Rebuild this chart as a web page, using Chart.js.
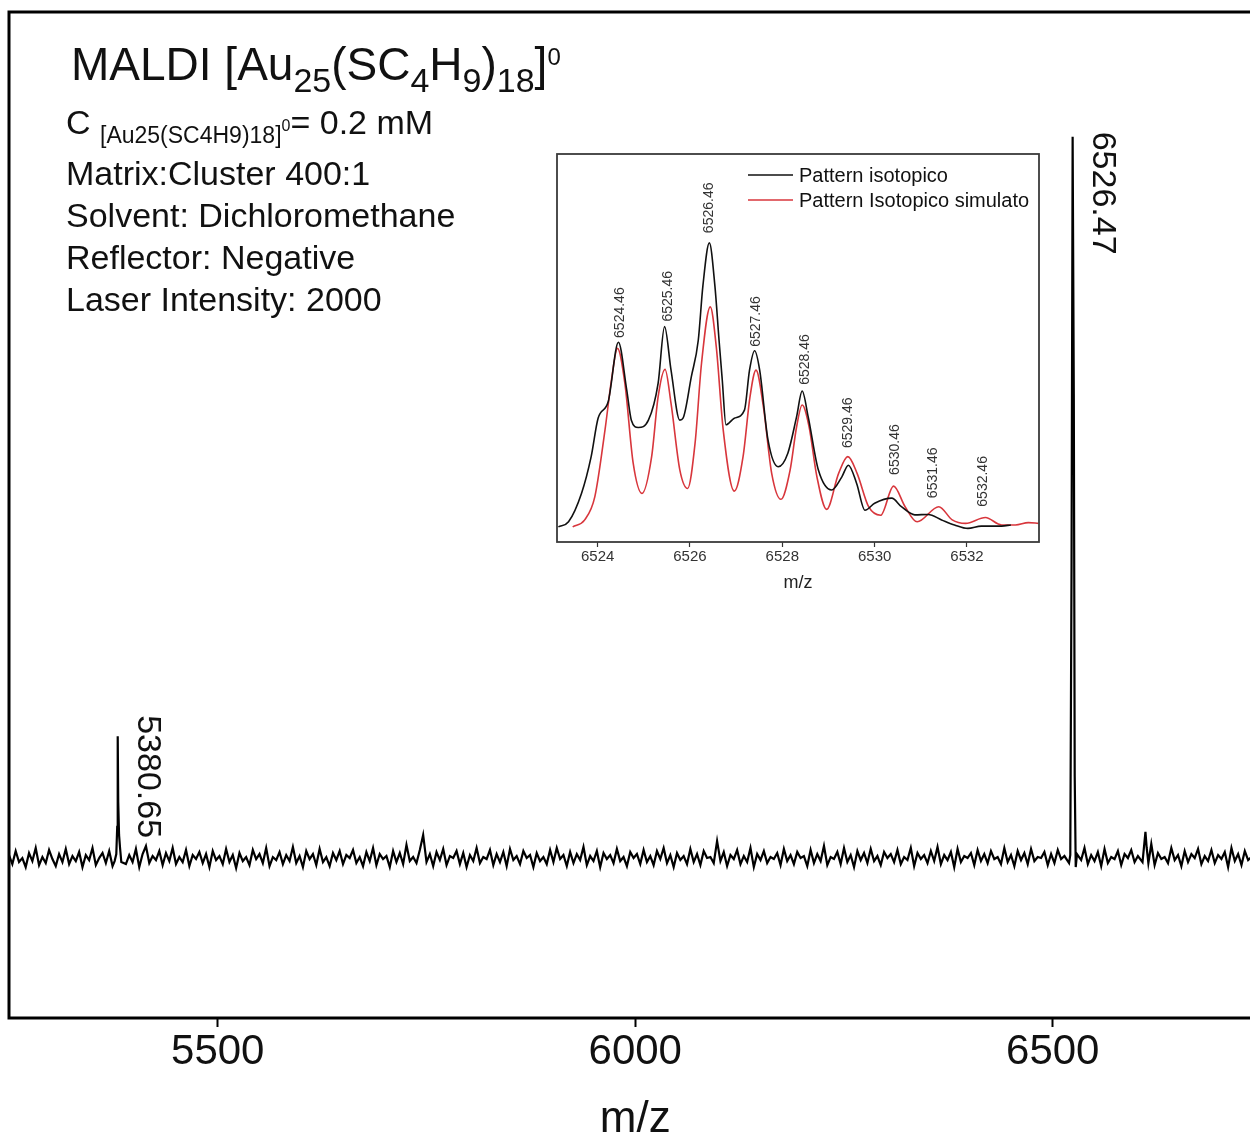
<!DOCTYPE html>
<html>
<head>
<meta charset="utf-8">
<title>MALDI Au25(SC4H9)18</title>
<script src="https://cdn.jsdelivr.net/npm/chart.js@4.4.1/dist/chart.umd.min.js"></script>
<style>
  html, body { margin: 0; padding: 0; background: #fff; overflow: hidden; }
  #wrap { position: relative; width: 1250px; height: 1142px; overflow: hidden; }
  #main { position: absolute; left: 0; top: 0; }
  #inset { position: absolute; left: 540px; top: 140px; }
</style>
</head>
<body>
<div id="wrap">
  <canvas id="main" width="1256" height="1142"></canvas>
  <canvas id="inset" width="520" height="470"></canvas>
</div>
<script>
// ---- main spectrum ----
const MAIN_TICKS = [5500, 6000, 6500];
const SPEC_START = 5250;
const SPEC_STEP = 4;
// baseline noise, one value every 4 m/z
const NOISE = [
  16.2,15.3,16.6,15.5,15.9,15.0,16.4,15.6,16.9,15.2,16.0,15.4,16.7,15.8,15.1,16.3,15.5,16.8,15.3,16.1,
  15.6,16.5,15.0,16.2,15.7,16.9,15.2,15.9,16.4,15.4,16.6,15.1,16.0,15.8,16.7,15.3,16.2,15.5,16.8,15.0,
  16.3,17.1,15.4,16.1,15.7,16.6,15.2,16.4,15.6,16.9,15.3,16.0,15.5,16.7,15.1,16.2,15.8,16.5,15.4,16.3,
  15.0,16.6,15.7,16.1,15.3,16.8,15.5,16.2,14.9,16.4,15.6,16.0,15.2,16.7,15.8,16.3,15.4,16.9,15.1,16.0,
  15.7,16.5,15.3,16.2,15.6,17.0,15.4,16.1,15.0,16.6,15.8,16.3,15.2,16.8,15.5,16.0,15.1,16.4,15.7,16.6,
  15.3,16.2,15.9,16.7,15.4,16.0,15.1,16.5,15.6,16.9,15.2,16.3,15.8,16.1,15.0,16.6,15.5,16.4,15.3,17.2,
  15.6,16.0,15.4,16.7,18.2,15.5,16.3,15.1,16.5,15.7,16.8,15.2,16.1,15.9,16.6,15.3,16.4,15.0,16.2,15.6,
  16.9,15.4,16.0,15.8,16.7,15.2,16.3,15.5,16.5,15.1,16.8,15.7,16.1,15.3,16.6,15.9,16.2,15.0,16.4,15.6,
  16.0,15.3,16.7,15.5,16.9,15.8,16.2,15.1,16.5,15.4,16.3,15.7,17.0,15.2,16.1,15.6,16.6,15.0,16.4,15.8,
  16.2,15.4,16.8,15.6,16.0,15.1,16.5,15.9,16.3,15.3,16.7,15.5,16.1,15.2,16.6,15.8,16.9,15.4,16.2,15.0,
  16.4,15.7,16.1,15.3,16.8,15.5,16.3,15.2,16.6,15.9,16.0,15.4,17.6,15.6,16.5,15.1,16.2,15.8,16.7,15.3,
  16.1,15.5,16.9,15.0,16.3,15.7,16.6,15.4,16.0,15.8,16.4,15.2,16.8,15.6,16.2,15.3,16.5,15.9,16.1,15.1,
  16.7,15.4,16.3,15.6,17.1,15.2,16.0,15.8,16.5,15.3,16.9,15.5,16.2,15.0,16.6,15.7,16.4,15.4,16.8,15.6,
  16.1,15.2,16.5,15.9,16.3,15.5,16.7,15.3,16.0,15.7,16.9,15.1,16.4,15.8,16.2,15.4,16.6,15.6,17.0,15.3,
  16.2,15.7,16.5,15.0,16.8,15.5,16.1,15.9,16.4,15.2,16.7,15.6,16.3,15.4,16.6,15.8,16.0,15.3,16.9,15.5,
  16.2,15.1,16.6,15.7,16.4,15.3,16.8,15.6,16.0,15.9,16.5,15.2,16.3,15.4,16.7,15.8,16.1,15.0,16.6,15.5,
  16.4,15.7,16.9,15.3,16.2,15.6,16.5,15.1,16.8,15.4,16.0,15.8,16.6,15.2,16.3,15.9,16.7,15.5,16.1,15.3,
  16.5,15.6,17.3,15.2,16.4,15.8,16.0,15.4,16.9,15.7,16.2,15.1,16.6,15.5,16.3,15.9,16.8,15.3,16.1,15.6,
  16.7,15.4,16.2,15.8,16.5,15.0,16.9,15.6,16.3,15.2,16.6,15.7,16.0,15.4,16.8,15.5,16.4,15.9,16.1,15.3
];
// the peaks above the noise
const PEAK_MZ = [5376.5, 5378.5, 5379.6, 5380.2, 5380.8, 5381.8, 5383.0, 5384.5,
                 6519.5, 6521.0, 6522.5, 6523.8, 6525.2, 6526.3, 6527.5, 6529.0,
                 6607.5, 6609.5, 6611.0, 6612.5, 6614.5];
const PEAK_INT = [15.6, 16.3, 19.0, 28.0, 21.5, 18.2, 16.9, 15.5,
                  15.4, 16.2, 45.0, 87.6, 62.0, 24.0, 15.0, 16.3,
                  15.5, 17.2, 18.5, 16.9, 15.4];
const LABEL_VALUES = [5380.65, 6526.47];
const LABEL_AT_MZ = [5380.2, 6523.8];
const LABEL_TOP = [30.1, 88.1];

// ---- inset: isotope pattern ----
const INSET_TICKS = [6524, 6526, 6528, 6530, 6532];
const SERIES_NAMES = ['Pattern isotopico', 'Pattern Isotopico simulato'];
const EXP_MZ = [6523.15,6523.37,6523.65,6523.86,6524.01,6524.23,6524.45,6524.63,6524.73,6524.88,
                6525.10,6525.31,6525.45,6525.59,6525.78,6525.85,6526.03,6526.18,6526.28,6526.42,
                6526.54,6526.63,6526.70,6526.78,6526.96,6527.18,6527.29,6527.40,6527.51,6527.69,
                6527.91,6528.12,6528.31,6528.43,6528.56,6528.78,6529.07,6529.29,6529.43,6529.61,
                6529.79,6530.00,6530.37,6530.58,6530.87,6531.16,6531.45,6531.73,6532.02,6532.31,
                6532.75,6532.95];
const EXP_INT = [3.9,5.2,12.5,22.0,31.9,36.2,51.5,39.2,31.4,29.5,
                 31.4,40.9,55.5,44.3,31.4,31.9,42.6,52.0,66.0,77.1,
                 66.0,52.0,41.7,30.2,31.9,34.0,44.3,49.3,44.3,26.3,
                 19.4,22.9,32.3,38.9,32.3,18.6,13.4,16.8,19.8,15.1,
                 8.2,10.0,11.3,9.1,7.0,7.1,5.7,4.4,3.5,4.1,
                 4.1,4.4];
const SIM_MZ = [6523.46,6523.72,6523.94,6524.16,6524.30,6524.43,6524.59,6524.77,6524.96,6525.17,
                6525.31,6525.46,6525.59,6525.78,6525.95,6526.11,6526.25,6526.44,6526.57,6526.72,
                6526.96,6527.15,6527.30,6527.43,6527.59,6527.77,6527.97,6528.17,6528.31,6528.43,
                6528.58,6528.75,6528.96,6529.22,6529.42,6529.62,6529.87,6530.13,6530.41,6530.66,
                6530.92,6531.39,6531.68,6531.97,6532.40,6532.75,6533.05,6533.33,6533.55];
const SIM_INT = [3.9,5.7,11.7,28.9,41.8,49.9,40.9,20.3,12.5,22.0,
                 37.4,44.5,35.7,18.6,13.8,25.4,46.0,60.6,50.3,28.9,
                 13.1,22.0,37.4,44.3,34.9,17.7,11.0,18.6,29.7,35.3,
                 29.7,16.8,8.4,17.7,22.0,17.7,9.1,6.9,14.4,9.1,
                 5.2,9.1,5.7,4.8,6.3,4.4,4.4,5.0,4.8];
const ISO_LABELS = [6524.46, 6525.46, 6526.46, 6527.46, 6528.46, 6529.46, 6530.46, 6531.46, 6532.46];
const ISO_LABEL_AT = [6524.48, 6525.52, 6526.41, 6527.43, 6528.49, 6529.42, 6530.44, 6531.27, 6532.36];
const ISO_LABEL_BOTTOM = [52.6, 56.8, 79.6, 50.3, 40.5, 24.2, 17.3, 11.3, 9.1];

const FONT = "'Liberation Sans', Arial, sans-serif";
Chart.defaults.font.family = FONT;
Chart.defaults.color = '#111';

function buildSpectrum() {
  const pts = [];
  NOISE.forEach((v, i) => {
    const x = SPEC_START + i * SPEC_STEP;
    if (PEAK_MZ.some(p => Math.abs(p - x) < 2.5)) return;
    pts.push({ x: x, y: v });
  });
  PEAK_MZ.forEach((x, i) => pts.push({ x: x, y: PEAK_INT[i] }));
  return pts.sort((a, b) => a.x - b.x);
}

function zip(xs, ys) {
  return xs.map((x, i) => ({ x: x, y: ys[i] }));
}

// draws text pieces one after another: [text, size, baseline shift]
function drawRuns(ctx, x, y, runs) {
  runs.forEach(r => {
    ctx.font = r[1] + 'px ' + FONT;
    ctx.fillText(r[0], x, y + r[2]);
    x += ctx.measureText(r[0]).width;
  });
}

const mainDecor = {
  id: 'mainDecor',
  afterDraw(chart) {
    const ctx = chart.ctx;
    const a = chart.chartArea;
    const xs = chart.scales.x, ys = chart.scales.y;
    ctx.save();
    ctx.strokeStyle = '#000';
    ctx.lineWidth = 3;
    ctx.strokeRect(a.left, a.top, a.right - a.left, a.bottom - a.top);

    ctx.fillStyle = '#111';
    ctx.textBaseline = 'alphabetic';
    ctx.textAlign = 'left';
    drawRuns(ctx, 71, 80, [['MALDI [Au', 46, 0], ['25', 34, 12], ['(SC', 46, 0], ['4', 34, 12],
      ['H', 46, 0], ['9', 34, 12], [')', 46, 0], ['18', 34, 12], [']', 46, 0], ['0', 24, -15]]);
    drawRuns(ctx, 66, 134, [['C ', 34, 0], ['[Au25(SC4H9)18]', 23, 8.7], ['0', 16, -3], ['= 0.2 mM', 34, 0]]);
    ctx.font = '34px ' + FONT;
    ctx.fillText('Matrix:Cluster 400:1', 66, 185);
    ctx.fillText('Solvent: Dichloromethane', 66, 227);
    ctx.fillText('Reflector: Negative', 66, 269);
    ctx.fillText('Laser Intensity: 2000', 66, 311);

    // peak labels, rotated
    ctx.font = '34px ' + FONT;
    ctx.textBaseline = 'middle';
    LABEL_VALUES.forEach((v, i) => {
      ctx.save();
      ctx.translate(xs.getPixelForValue(LABEL_AT_MZ[i]) + 30, ys.getPixelForValue(LABEL_TOP[i]));
      ctx.rotate(Math.PI / 2);
      ctx.fillText(v.toFixed(2), 0, 0);
      ctx.restore();
    });

    ctx.font = '44px ' + FONT;
    ctx.textAlign = 'center';
    ctx.fillText('m/z', xs.getPixelForValue(6000), 1120);
    ctx.restore();
  }
};

new Chart(document.getElementById('main'), {
  type: 'line',
  data: {
    datasets: [{
      data: buildSpectrum(),
      borderColor: '#000',
      borderWidth: 2.2,
      pointRadius: 0,
      tension: 0
    }]
  },
  options: {
    responsive: false,
    animation: false,
    devicePixelRatio: 1,
    layout: { padding: { left: 9, top: 12, right: 0, bottom: 0 } },
    plugins: { legend: { display: false }, tooltip: { enabled: false } },
    scales: {
      x: {
        type: 'linear',
        min: 5250,
        max: 6743.4,
        afterBuildTicks: s => { s.ticks = MAIN_TICKS.map(v => ({ value: v })); },
        afterFit: s => { s.height = 124; },
        border: { display: false },
        grid: { drawOnChartArea: false, drawTicks: true, tickLength: 9, tickWidth: 2, color: '#000' },
        ticks: { font: { size: 42 }, color: '#111', padding: 0, maxRotation: 0, callback: v => String(v) }
      },
      y: { display: false, min: 0, max: 100 }
    }
  },
  plugins: [mainDecor]
});

const insetDecor = {
  id: 'insetDecor',
  afterDraw(chart) {
    const ctx = chart.ctx;
    const a = chart.chartArea;
    const xs = chart.scales.x, ys = chart.scales.y;
    ctx.save();
    ctx.strokeStyle = '#3a3a3a';
    ctx.lineWidth = 1.8;
    ctx.strokeRect(a.left, a.top, a.right - a.left, a.bottom - a.top);

    ctx.fillStyle = '#333';
    ctx.font = '14px ' + FONT;
    ctx.textAlign = 'left';
    ctx.textBaseline = 'middle';
    ISO_LABELS.forEach((v, i) => {
      ctx.save();
      ctx.translate(xs.getPixelForValue(ISO_LABEL_AT[i]), ys.getPixelForValue(ISO_LABEL_BOTTOM[i]));
      ctx.rotate(-Math.PI / 2);
      ctx.fillText(v.toFixed(2), 0, 0);
      ctx.restore();
    });

    // legend
    const colors = ['#111', '#d8363c'];
    ctx.font = '20px ' + FONT;
    SERIES_NAMES.forEach((name, i) => {
      const y = 35 + i * 25;
      ctx.strokeStyle = colors[i];
      ctx.lineWidth = 1.6;
      ctx.beginPath();
      ctx.moveTo(208, y);
      ctx.lineTo(253, y);
      ctx.stroke();
      ctx.fillStyle = '#111';
      ctx.fillText(name, 259, y + 1);
    });

    ctx.fillStyle = '#222';
    ctx.font = '18px ' + FONT;
    ctx.textAlign = 'center';
    ctx.fillText('m/z', (a.left + a.right) / 2, 443);
    ctx.restore();
  }
};

new Chart(document.getElementById('inset'), {
  type: 'line',
  data: {
    datasets: [
      {
        label: SERIES_NAMES[0],
        data: zip(EXP_MZ, EXP_INT),
        borderColor: '#111',
        borderWidth: 1.6,
        pointRadius: 0,
        cubicInterpolationMode: 'monotone'
      },
      {
        label: SERIES_NAMES[1],
        data: zip(SIM_MZ, SIM_INT),
        borderColor: '#d8363c',
        borderWidth: 1.6,
        pointRadius: 0,
        cubicInterpolationMode: 'monotone'
      }
    ]
  },
  options: {
    responsive: false,
    animation: false,
    devicePixelRatio: 1,
    layout: { padding: { left: 17, top: 14, right: 21, bottom: 0 } },
    plugins: { legend: { display: false }, tooltip: { enabled: false } },
    scales: {
      x: {
        type: 'linear',
        min: 6523.12,
        max: 6533.56,
        afterBuildTicks: s => { s.ticks = INSET_TICKS.map(v => ({ value: v })); },
        afterFit: s => { s.height = 68; },
        border: { display: false },
        grid: { drawOnChartArea: false, drawTicks: true, tickLength: 5, tickWidth: 1.2, color: '#333' },
        ticks: { font: { size: 15 }, color: '#333', padding: 1, maxRotation: 0, callback: v => String(v) }
      },
      y: { display: false, min: 0, max: 100 }
    }
  },
  plugins: [insetDecor]
});
</script>
</body>
</html>
